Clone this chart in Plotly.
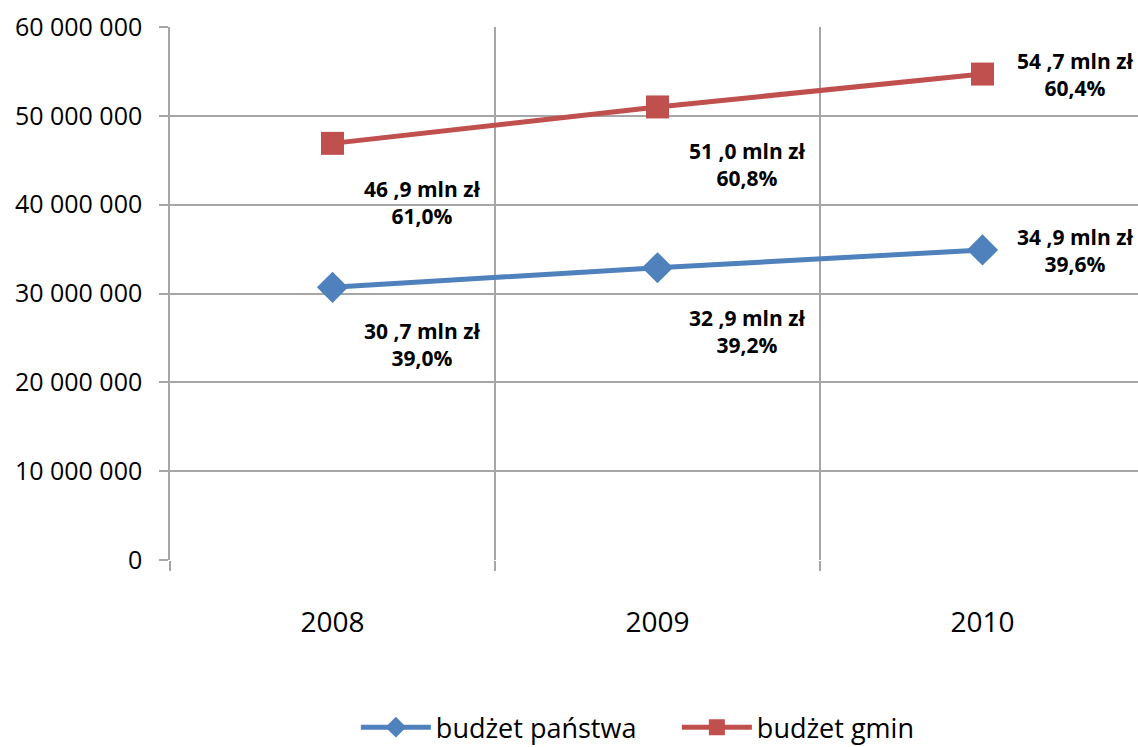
import plotly.graph_objects as go

years = ["2008", "2009", "2010"]
budzet_panstwa = [30700000, 32900000, 34900000]
budzet_gmin = [46900000, 51000000, 54700000]
labels_panstwa = ["30 ,7 mln zł<br>39,0%", "32 ,9 mln zł<br>39,2%", "34 ,9 mln zł<br>39,6%"]
labels_gmin = ["46 ,9 mln zł<br>61,0%", "51 ,0 mln zł<br>60,8%", "54 ,7 mln zł<br>60,4%"]
y_ticks = [0, 10000000, 20000000, 30000000, 40000000, 50000000, 60000000]
y_ticktext = ["0", "10 000 000", "20 000 000", "30 000 000", "40 000 000", "50 000 000", "60 000 000"]

BLUE = "#4F81BD"
RED = "#C0504D"
GRID = "#A6A6A6"
FONT = "Open Sans"

xs = list(range(len(years)))

fig = go.Figure()
fig.add_trace(go.Scatter(
    x=xs, y=budzet_panstwa, name="budżet państwa", mode="lines+markers",
    line=dict(color=BLUE, width=5),
    marker=dict(symbol="diamond", size=24, color=BLUE),
))
fig.add_trace(go.Scatter(
    x=xs, y=budzet_gmin, name="budżet gmin", mode="lines+markers",
    line=dict(color=RED, width=5),
    marker=dict(symbol="square", size=23, color=RED),
))

# data label offsets (pixels) per point
off_p = [(89, -57), (89, -64), (92, -1)]
off_g = [(89, -59), (89, -58), (92, 0)]
for i in xs:
    fig.add_annotation(x=xs[i], y=budzet_panstwa[i], text=labels_panstwa[i], showarrow=False,
                       xshift=off_p[i][0], yshift=off_p[i][1],
                       font=dict(family=FONT, size=21, color="#000000", weight="bold"), align="center")
    fig.add_annotation(x=xs[i], y=budzet_gmin[i], text=labels_gmin[i], showarrow=False,
                       xshift=off_g[i][0], yshift=off_g[i][1],
                       font=dict(family=FONT, size=21, color="#000000", weight="bold"), align="center")

fig.update_layout(
    width=1138, height=747,
    margin=dict(l=170, r=0, t=27, b=187),
    paper_bgcolor="white", plot_bgcolor="white",
    font=dict(family=FONT, color="#000000"),
    showlegend=True,
    legend=dict(orientation="h", x=0.192, xanchor="left", y=0.026, yanchor="middle",
                yref="container", font=dict(size=27, family=FONT),
                itemwidth=70, entrywidth=236, entrywidthmode="pixels", traceorder="normal"),
)
fig.update_xaxes(
    range=[-0.5, -0.5 + 968 / 325], tickvals=xs, ticktext=years,
    showgrid=False, ticks="", zeroline=False, showline=False,
    tickfont=dict(size=28, family=FONT), ticklabelstandoff=43,
    minor=dict(tick0=0.5, dtick=1, showgrid=True, gridcolor=GRID, gridwidth=1.5,
               ticks="outside", ticklen=10, tickcolor=GRID, tickwidth=1.5),
)
fig.update_yaxes(
    range=[0, 60000000], tickvals=y_ticks, ticktext=y_ticktext,
    showgrid=True, gridcolor=GRID, gridwidth=1.5,
    ticks="outside", ticklen=9, tickcolor=GRID, tickwidth=1.5,
    showline=True, linecolor=GRID, linewidth=1.5, zeroline=False,
    tickfont=dict(size=25, family=FONT), ticklabelstandoff=12,
)

fig.write_html("out.html", config={"displayModeBar": False},
               post_script="document.body.style.margin='0';document.body.style.overflow='hidden';")
